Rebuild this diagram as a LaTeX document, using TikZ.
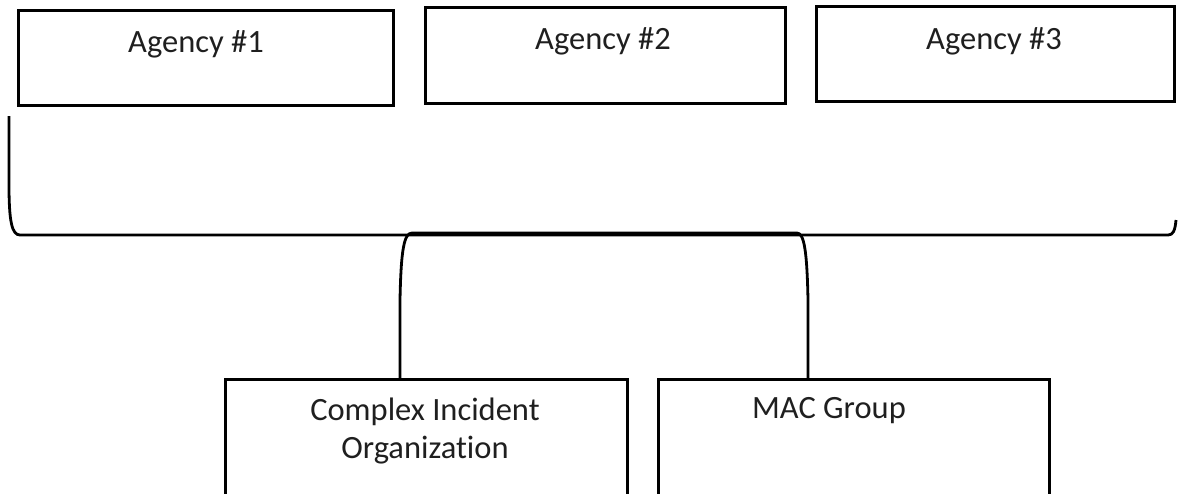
\documentclass[tikz,border=0pt]{standalone}
\usepackage{fontspec}
\setmainfont{Carlito}[Ligatures=NoCommon]
\begin{document}
\begin{tikzpicture}[x=1pt,y=-1pt,
  box/.style={draw=black, line width=2.6pt, rectangle, inner sep=0pt, anchor=north west},
  lbl/.style={anchor=base, inner sep=0pt, text=black!88, font=\fontsize{32.5}{38}\selectfont},
  wire/.style={draw=black, line width=2.8pt, line join=round}]
\useasboundingbox (0,0) rectangle (1178,493);
\begin{scope}
\clip (0,0) rectangle (1178,493);

% agency boxes along the top
\node[box, minimum width=375pt, minimum height=95pt] (a1) at (17,9) {};
\node[box, minimum width=360pt, minimum height=96pt] (a2) at (424,6) {};
\node[box, minimum width=358pt, minimum height=95pt] (a3) at (815,5) {};

% lower boxes, running past the bottom edge
\node[box, minimum width=402pt, minimum height=140pt] (cio) at (224,378) {};
\node[box, minimum width=391pt, minimum height=140pt] (mac) at (657,378) {};

% captions
\node[lbl] (t1) at (196,52) {Agency \#1};
\node[lbl] (t2) at (603,49) {Agency \#2};
\node[lbl] (t3) at (994,49) {Agency \#3};
\node[lbl] (t4) at (425,420) {Complex Incident};
\node[lbl] (t5) at (425,458) {Organization};
\node[lbl] (t6) at (829,418) {MAC Group};

% brace gathering the agencies
\coordinate (bl) at (9,116);
\coordinate (br) at (1176,220);
\draw[wire] (bl) -- (9,185) .. controls (9,222) and (12,235) .. (20,235)
  -- (1168,235) .. controls (1173,235) and (1175,231) .. (br);

% connector joining the two lower boxes
\draw[wire] (cio.north west -| 400,0) -- (400,300)
  .. controls (401,250) and (404,233) .. (412,233)
  -- (797,233) .. controls (804,233) and (807,250) .. (808,300)
  -- (mac.north west -| 808,0);
\end{scope}
\end{tikzpicture}
\end{document}
